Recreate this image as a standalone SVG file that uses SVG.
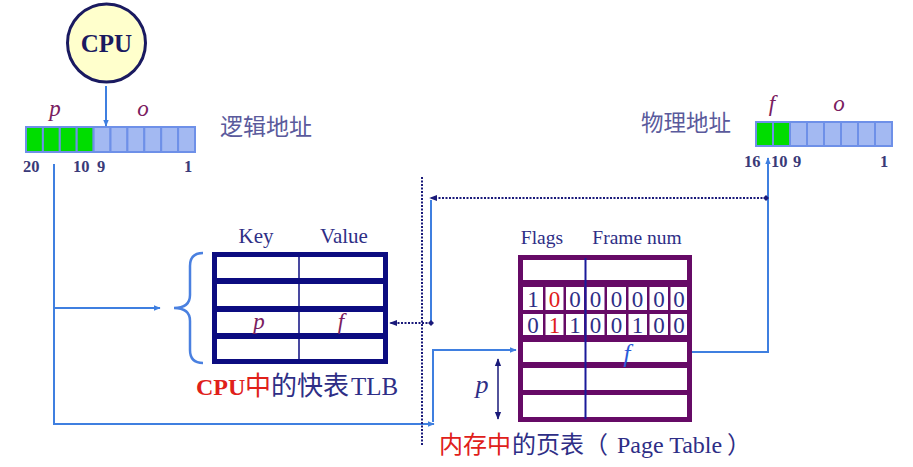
<svg xmlns="http://www.w3.org/2000/svg" width="913" height="467" viewBox="0 0 913 467">
<style>
.ser{font-family:"Liberation Serif","Times New Roman",serif}
.cjk{font-family:"Noto Sans CJK SC",sans-serif}
.navy{fill:#2e2e86}
.red{fill:#e0201a}
.ital{font-style:italic;fill:#7a2060}
.num{font-family:"Liberation Serif",serif;font-size:16.5px;font-weight:bold;fill:#3a3a78}
.g{fill:#00dd00;stroke:#6e90e8;stroke-width:2}
.b{fill:#a3b9f2;stroke:#6e90e8;stroke-width:2}
.blue{fill:none;stroke:#3f7fe0;stroke-width:2}
.dot{fill:none;stroke:#1a1a7a;stroke-width:2;stroke-dasharray:2 1.5}
.w{fill:#ffffff}
.dig{font-family:"Liberation Serif",serif;font-size:23px;fill:#2e2e86;text-anchor:middle}
</style>
<defs>
<marker id="ab" viewBox="0 0 10 10" refX="9" refY="5" markerWidth="7" markerHeight="7" orient="auto-start-reverse" markerUnits="userSpaceOnUse"><path d="M0,1 L10,5 L0,9 Z" fill="#3f7fe0"/></marker>
<marker id="an" viewBox="0 0 10 10" refX="9" refY="5" markerWidth="8" markerHeight="8" orient="auto-start-reverse" markerUnits="userSpaceOnUse"><path d="M0,1 L10,5 L0,9 Z" fill="#1a1a7a"/></marker>
<marker id="dm" viewBox="0 0 10 10" refX="5" refY="5" markerWidth="6" markerHeight="6" markerUnits="userSpaceOnUse"><path d="M5,0 L10,5 L5,10 L0,5 Z" fill="#1a1a7a"/></marker>
</defs>
<rect width="913" height="467" fill="#ffffff"/>

<g id="cpu">
<circle cx="106.5" cy="43" r="39" fill="#ffffcc" stroke="#1a1a60" stroke-width="3"/>
<text x="106.5" y="52" class="ser" font-size="25" font-weight="bold" fill="#1a1a60" text-anchor="middle">CPU</text>
</g>

<g id="logical-address">
<rect class="g" x="26" y="127" width="16.9" height="25"/>
<rect class="g" x="42.9" y="127" width="16.9" height="25"/>
<rect class="g" x="59.8" y="127" width="16.9" height="25"/>
<rect class="g" x="76.7" y="127" width="16.9" height="25"/>
<rect class="b" x="93.6" y="127" width="16.9" height="25"/>
<rect class="b" x="110.5" y="127" width="16.9" height="25"/>
<rect class="b" x="127.4" y="127" width="16.9" height="25"/>
<rect class="b" x="144.3" y="127" width="16.9" height="25"/>
<rect class="b" x="161.2" y="127" width="16.9" height="25"/>
<rect class="b" x="178.1" y="127" width="16.9" height="25"/>
<text x="55" y="116" class="ser ital" font-size="23" text-anchor="middle">p</text>
<text x="143" y="116" class="ser ital" font-size="23" text-anchor="middle">o</text>
<text x="220" y="135" class="cjk" font-size="23" fill="#5a5a9c">逻辑地址</text>
<text x="23" y="172" class="num">20</text>
<text x="73" y="172" class="num">10</text>
<text x="97" y="172" class="num">9</text>
<text x="184" y="172" class="num">1</text>
</g>

<g id="physical-address">
<rect class="g" x="756" y="122" width="17" height="24"/>
<rect class="g" x="773" y="122" width="17" height="24"/>
<rect class="b" x="790" y="122" width="17" height="24"/>
<rect class="b" x="807" y="122" width="17" height="24"/>
<rect class="b" x="824" y="122" width="17" height="24"/>
<rect class="b" x="841" y="122" width="17" height="24"/>
<rect class="b" x="858" y="122" width="17" height="24"/>
<rect class="b" x="875" y="122" width="17" height="24"/>
<text x="772" y="111" class="ser ital" font-size="23" text-anchor="middle">f</text>
<text x="839" y="111" class="ser ital" font-size="23" text-anchor="middle">o</text>
<text x="641" y="131" class="cjk" font-size="22.5" fill="#5a5a9c">物理地址</text>
<text x="744" y="167" class="num">16</text>
<text x="771" y="167" class="num">10</text>
<text x="793" y="167" class="num">9</text>
<text x="880" y="167" class="num">1</text>
</g>

<g id="tlb">
<text x="256" y="243" class="ser navy" font-size="21" text-anchor="middle">Key</text>
<text x="344" y="243" class="ser navy" font-size="21" text-anchor="middle">Value</text>
<rect x="212" y="252" width="176" height="112" fill="#0c0c80"/>
<rect class="w" x="217" y="257" width="166" height="21"/>
<rect class="w" x="217" y="284" width="166" height="22"/>
<rect class="w" x="217" y="312" width="166" height="21"/>
<rect class="w" x="217" y="339" width="166" height="20"/>
<line x1="299" y1="257" x2="299" y2="359" stroke="#0c0c80" stroke-width="1.5"/>
<text x="259" y="329" class="ser ital" font-size="23" text-anchor="middle">p</text>
<text x="341" y="329" class="ser ital" font-size="23" text-anchor="middle">f</text>
<path d="M203,253 Q190,253 190,266 L190,295 Q190,308 174,308 Q190,308 190,321 L190,350 Q190,363 203,363" fill="none" stroke="#4a80e0" stroke-width="2.5"/>
<text y="395"><tspan x="196" class="ser red" font-size="24" font-weight="bold">CPU</tspan><tspan x="245" class="cjk red" font-size="26">中</tspan><tspan x="271" class="cjk navy" font-size="26">的快表</tspan><tspan x="351" class="ser navy" font-size="25">TLB</tspan></text>
</g>

<g id="page-table">
<text x="542" y="244" class="ser navy" font-size="19.5" text-anchor="middle">Flags</text>
<text x="637" y="244" class="ser navy" font-size="19.5" text-anchor="middle">Frame num</text>
<rect x="518" y="255" width="174" height="167" fill="#660a66"/>
<rect class="w" x="523" y="260" width="164" height="20"/>
<rect class="w" x="523" y="287" width="20" height="23"/>
<rect class="w" x="545.5" y="287" width="18" height="23"/>
<rect class="w" x="566" y="287" width="18" height="23"/>
<rect class="w" x="586.5" y="287" width="18" height="23"/>
<rect class="w" x="607" y="287" width="19" height="23"/>
<rect class="w" x="628.5" y="287" width="18.5" height="23"/>
<rect class="w" x="649.5" y="287" width="18.5" height="23"/>
<rect class="w" x="670.5" y="287" width="16.5" height="23"/>
<rect class="w" x="523" y="314" width="20" height="21"/>
<rect class="w" x="545.5" y="314" width="18" height="21"/>
<rect class="w" x="566" y="314" width="18" height="21"/>
<rect class="w" x="586.5" y="314" width="18" height="21"/>
<rect class="w" x="607" y="314" width="19" height="21"/>
<rect class="w" x="628.5" y="314" width="18.5" height="21"/>
<rect class="w" x="649.5" y="314" width="18.5" height="21"/>
<rect class="w" x="670.5" y="314" width="16.5" height="21"/>
<rect class="w" x="523" y="342" width="164" height="20"/>
<rect class="w" x="523" y="368" width="164" height="22"/>
<rect class="w" x="523" y="395" width="164" height="22"/>
<line x1="585.5" y1="258" x2="585.5" y2="419" stroke="#1a1a9a" stroke-width="2"/>
<text y="307" class="dig"><tspan x="533">1</tspan><tspan x="554.5" class="red">0</tspan><tspan x="575">0</tspan><tspan x="595.5">0</tspan><tspan x="616.5">0</tspan><tspan x="637.5">0</tspan><tspan x="659">0</tspan><tspan x="679">0</tspan></text>
<text y="333" class="dig"><tspan x="533">0</tspan><tspan x="554.5" class="red">1</tspan><tspan x="575">1</tspan><tspan x="595.5">0</tspan><tspan x="616.5">0</tspan><tspan x="637.5">1</tspan><tspan x="659">0</tspan><tspan x="679">0</tspan></text>
<text x="627" y="362" class="ser" font-size="25" font-style="italic" fill="#2a5ad8" text-anchor="middle">f</text>
<text x="482" y="393" class="ser" font-size="26" font-style="italic" fill="#2e2e86" text-anchor="middle">p</text>
<text y="453" font-size="24"><tspan x="439" class="cjk red">内存中</tspan><tspan x="512" class="cjk navy">的页表（</tspan><tspan x="617" class="ser navy">Page Table</tspan><tspan x="727" class="cjk navy">）</tspan></text>
</g>

<g id="connectors">
<line x1="106" y1="86" x2="106" y2="126" class="blue" marker-end="url(#ab)"/>
<line x1="54" y1="164" x2="54" y2="424" class="blue"/>
<line x1="54" y1="308" x2="160" y2="308" class="blue" marker-end="url(#ab)"/>
<line x1="53" y1="424" x2="434" y2="424" class="blue" marker-end="url(#ab)"/>
<path d="M433,422 V350 H516" class="blue" marker-end="url(#ab)"/>
<line x1="422" y1="177" x2="422" y2="446" class="dot"/>
<path d="M692,352 H768 V158" class="blue" marker-end="url(#ab)"/>
<line x1="766" y1="198" x2="430" y2="198" class="dot" marker-start="url(#dm)" marker-end="url(#an)"/>
<line x1="431" y1="200" x2="431" y2="323" class="blue"/>
<line x1="431" y1="323" x2="390" y2="323" class="dot" marker-start="url(#dm)" marker-end="url(#an)"/>
<line x1="498" y1="359" x2="498" y2="419" stroke="#1a1a7a" stroke-width="1.5" marker-start="url(#an)" marker-end="url(#an)"/>
</g>
</svg>
